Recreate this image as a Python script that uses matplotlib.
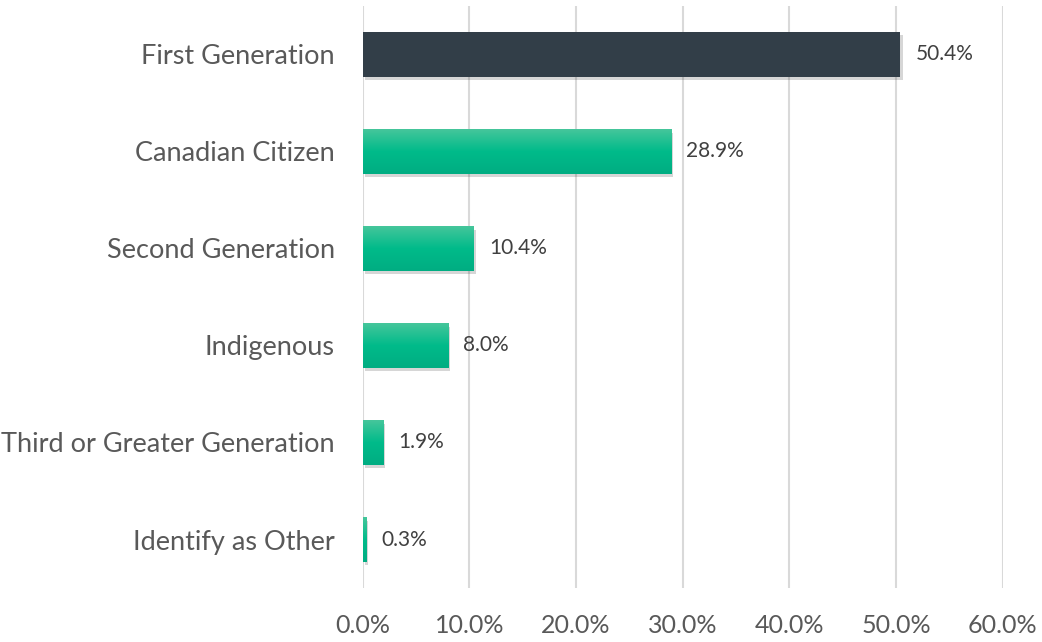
import numpy as np
import matplotlib
matplotlib.use('Agg')
import matplotlib.pyplot as plt
import matplotlib.patheffects as pe
from matplotlib.colors import LinearSegmentedColormap

categories = ['First Generation', 'Canadian Citizen', 'Second Generation',
              'Indigenous', 'Third or Greater Generation', 'Identify as Other']
values = [50.4, 28.9, 10.4, 8.0, 1.9, 0.3]
xticks = [0, 10, 20, 30, 40, 50, 60]

plt.rcParams['font.family'] = ['Lato', 'DejaVu Sans']

fig = plt.figure(figsize=(10.42, 6.42), dpi=100)
ax = fig.add_axes([0.348, 0.084, 0.6145, 0.907])

y = np.arange(len(categories))
colors = ['#323e48'] + ['#00b386'] * (len(categories) - 1)
shadow = [pe.SimplePatchShadow(offset=(1.5, -2.5), alpha=0.2, shadow_rgbFace='#333333'), pe.Normal()]
bars = ax.barh(y, values, height=0.46, color=colors, zorder=3, path_effects=shadow)

# green bars get a soft vertical gradient, lighter on top
green = LinearSegmentedColormap.from_list('g', ['#45c69b', '#00bb8a', '#00ad82'])
grad = np.linspace(0, 1, 100).reshape(-1, 1)
for i, b in enumerate(bars):
    if i == 0:
        continue
    x0, y0 = b.get_x(), b.get_y()
    im = ax.imshow(grad, cmap=green, aspect='auto', origin='upper',
                   extent=(x0, x0 + b.get_width(), y0 + b.get_height(), y0), zorder=4)
    im.set_clip_path(b)

for i, v in enumerate(values):
    ax.annotate(f'{v:.1f}%', xy=(v, i), xytext=(11, 0), textcoords='offset points',
                va='center', ha='left', fontsize=15, color='#404040', zorder=5)

ax.set_xlim(0, 60)
ax.set_ylim(len(categories) - 0.5, -0.5)
ax.set_xticks(xticks)
ax.set_xticklabels([f'{t:.1f}%' for t in xticks])
ax.set_yticks(y)
ax.set_yticklabels(categories)
ax.tick_params(axis='x', length=0, pad=19, labelsize=18, labelcolor='#595959')
ax.tick_params(axis='y', length=0, pad=20, labelsize=19.5, labelcolor='#595959')
ax.grid(axis='x', color='#d9d9d9', linewidth=1.5, zorder=0)
for s in ax.spines.values():
    s.set_visible(False)
ax.set_facecolor('white')

fig.savefig('out.png', dpi=100, facecolor='white')
